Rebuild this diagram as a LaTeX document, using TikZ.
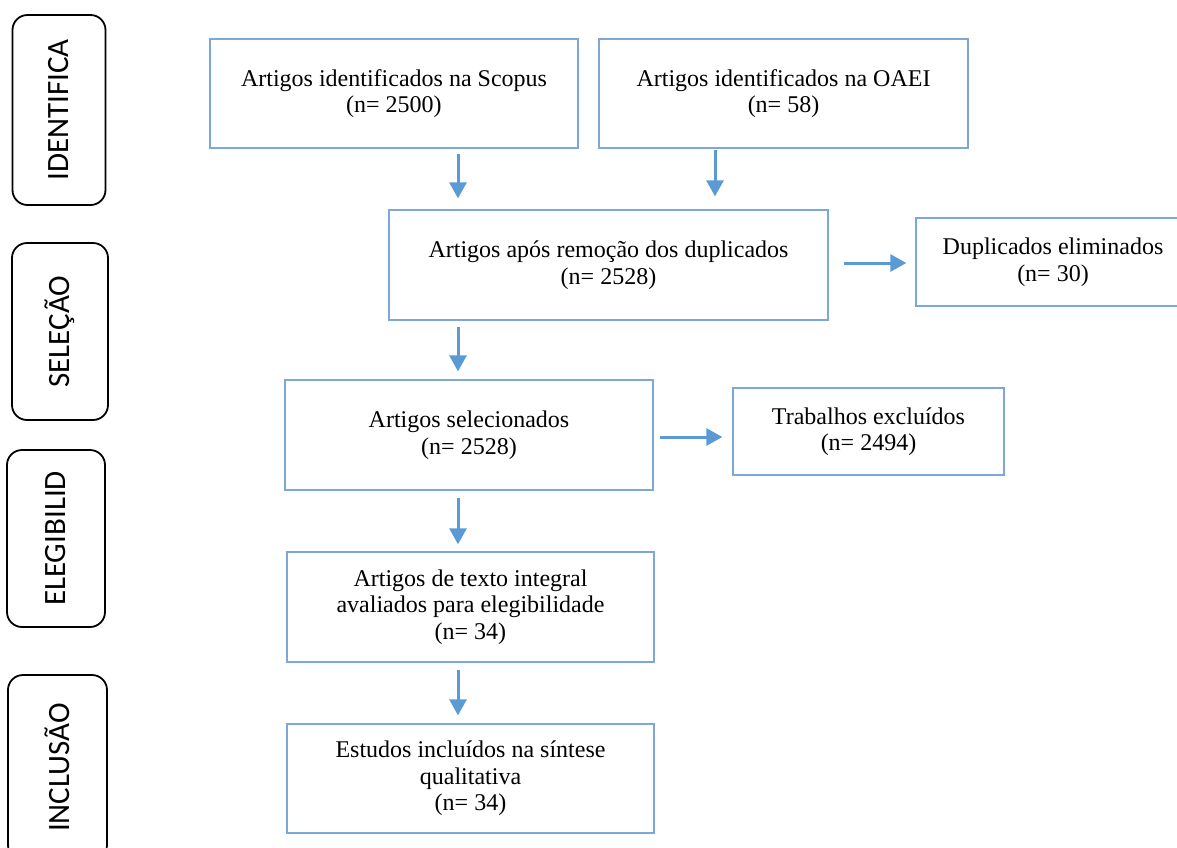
\documentclass[tikz,border=0pt]{standalone}
\usepackage{fontspec}
\setmainfont{Liberation Serif}
\newfontfamily\labelfont{Carlito}
\usetikzlibrary{arrows.meta,calc}
\definecolor{boxline}{RGB}{125,167,217}
\definecolor{arrowblue}{RGB}{91,155,213}
\begin{document}
\begin{tikzpicture}[x=1pt,y=-1pt,
  flowbox/.style={draw=boxline,line width=1.3pt,inner sep=0pt,align=center,
    font=\fontsize{24}{26.5}\selectfont},
  phase/.style={draw=black,line width=1.8pt,rounded corners=15pt,rotate=90,
    inner sep=0pt,font=\labelfont\fontsize{31}{33}\selectfont},
  arr/.style={arrowblue,line width=3pt,-{Triangle[width=17pt,length=16pt]}}]
\useasboundingbox (0,0) rectangle (1177,847);
\clip (0,0) rectangle (1177,847);

% phase labels on the left
\node[phase,minimum width=190,minimum height=93] (p1) at (59,110) {IDENTIFICA};
\node[phase,minimum width=177,minimum height=96] (p2) at (60,331.5) {SELEÇÃO\hspace{17pt}};
\node[phase,minimum width=177,minimum height=98] (p3) at (56,538.5) {ELEGIBILID};
\node[phase,minimum width=185,minimum height=99] (p4) at (57.5,767.5) {INCLUSÃO};

% flow boxes
\node[flowbox,minimum width=368,minimum height=109] (b1) at (394,93.5)
  {Artigos identificados na Scopus\\(n= 2500)};
\node[flowbox,minimum width=369,minimum height=109] (b2) at (783.5,93.5)
  {Artigos identificados na OAEI\\(n= 58)};
\node[flowbox,minimum width=439,minimum height=110] (b3) at (608.5,265)
  {Artigos após remoção dos duplicados\\(n= 2528)};
\node[flowbox,minimum width=274,minimum height=88] (b4) at (1053,262)
  {Duplicados eliminados\\(n= 30)};
\node[flowbox,minimum width=368,minimum height=110] (b5) at (469,435)
  {Artigos selecionados\\(n= 2528)};
\node[flowbox,minimum width=271,minimum height=87] (b6) at (868.5,431.5)
  {Trabalhos excluídos\\(n= 2494)};
\node[flowbox,minimum width=367,minimum height=110] (b7) at (470.5,607)
  {Artigos de texto integral\\avaliados para elegibilidade\\(n= 34)};
\node[flowbox,minimum width=367,minimum height=109] (b8) at (470.5,778.5)
  {Estudos incluídos na síntese\\qualitativa\\(n= 34)};

% arrow guide lines
\coordinate (colA) at (458,0);
\coordinate (colB) at (715,0);
\coordinate (rowA) at (0,263);
\coordinate (rowB) at (0,437);

% connectors
\draw[arr,shorten <=5pt,shorten >=11pt] (b1.south -| colA) -- (b3.north -| colA);
\draw[arr,shorten <=1pt,shorten >=13pt] (b2.south -| colB) -- (b3.north -| colB);
\draw[arr,shorten <=15pt,shorten >=9pt] (b3.east |- rowA) -- (b4.west |- rowA);
\draw[arr,shorten <=6pt,shorten >=8pt] (b3.south -| colA) -- (b5.north -| colA);
\draw[arr,shorten <=6pt,shorten >=10pt] (b5.east |- rowB) -- (b6.west |- rowB);
\draw[arr,shorten <=7pt,shorten >=7pt] (b5.south -| colA) -- (b7.north -| colA);
\draw[arr,shorten <=7pt,shorten >=8pt] (b7.south -| colA) -- (b8.north -| colA);
\end{tikzpicture}
\end{document}
